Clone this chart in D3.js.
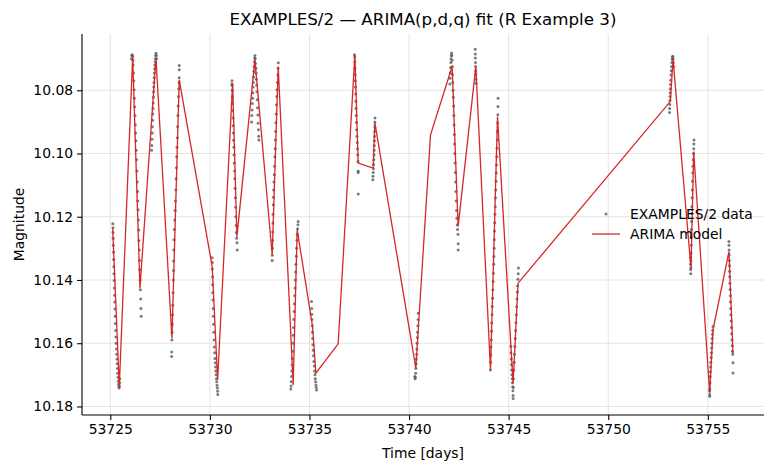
<!DOCTYPE html>
<html>
<head>
<meta charset="utf-8">
<script src="https://cdn.jsdelivr.net/npm/d3@7"></script>
<style>
  body { margin: 0; background: #fff; }
  svg { font-family: "DejaVu Sans", sans-serif; }
</style>
</head>
<body>
<div id="chart"></div>
<script>
// Observed light curve (time [MJD], magnitude), read night by night
const obsPoints = [
  // night 1
  [53725.128,10.1222],[53725.135,10.1235],[53725.140,10.1250],[53725.146,10.1268],[53725.152,10.1290],[53725.160,10.1312],[53725.168,10.1335],[53725.176,10.1358],[53725.186,10.1380],[53725.195,10.1402],[53725.205,10.1425],[53725.215,10.1448],[53725.226,10.1470],[53725.236,10.1492],[53725.246,10.1515],[53725.258,10.1538],[53725.270,10.1560],[53725.283,10.1580],[53725.296,10.1600],[53725.310,10.1618],[53725.322,10.1635],[53725.335,10.1650],[53725.348,10.1665],[53725.362,10.1680],[53725.376,10.1695],[53725.390,10.1708],[53725.404,10.1720],[53725.418,10.1730],[53725.432,10.1738],[53725.445,10.1742],[53725.458,10.1735],[53725.470,10.1725],[53725.478,10.1712],
  // night 2
  [53726.060,10.0700],[53726.080,10.0690],[53726.100,10.0688],[53726.120,10.0692],[53726.135,10.0705],[53726.150,10.0720],[53726.165,10.0745],[53726.180,10.0770],[53726.195,10.0798],[53726.210,10.0825],[53726.225,10.0852],[53726.240,10.0880],[53726.255,10.0909],[53726.270,10.0935],[53726.285,10.0960],[53726.300,10.0990],[53726.318,10.1020],[53726.335,10.1055],[53726.350,10.1090],[53726.365,10.1120],[53726.380,10.1150],[53726.395,10.1178],[53726.410,10.1210],[53726.425,10.1242],[53726.440,10.1275],[53726.455,10.1305],[53726.468,10.1338],[53726.480,10.1368],[53726.495,10.1400],[53726.510,10.1431],[53726.525,10.1460],[53726.540,10.1490],[53726.552,10.1515],
  // night 3
  [53727.075,10.0990],[53727.085,10.0975],[53727.095,10.0955],[53727.105,10.0935],[53727.115,10.0915],[53727.125,10.0895],[53727.135,10.0875],[53727.145,10.0858],[53727.155,10.0840],[53727.165,10.0822],[53727.175,10.0805],[53727.185,10.0790],[53727.195,10.0775],[53727.205,10.0760],[53727.215,10.0745],[53727.228,10.0732],[53727.240,10.0720],[53727.255,10.0710],[53727.268,10.0700],[53727.282,10.0690],[53727.295,10.0683],[53727.310,10.0690],[53727.325,10.0700],
  // night 4
  [53728.081,10.1642],[53728.083,10.1628],[53728.092,10.1590],[53728.100,10.1565],[53728.112,10.1540],[53728.125,10.1510],[53728.138,10.1480],[53728.150,10.1440],[53728.161,10.1400],[53728.170,10.1370],[53728.180,10.1340],[53728.190,10.1305],[53728.200,10.1273],[53728.215,10.1240],[53728.235,10.1210],[53728.255,10.1180],[53728.270,10.1150],[53728.290,10.1115],[53728.305,10.1080],[53728.320,10.1045],[53728.335,10.1010],[53728.350,10.0980],[53728.365,10.0950],[53728.380,10.0915],[53728.395,10.0880],[53728.410,10.0850],[53728.425,10.0820],[53728.440,10.0795],[53728.452,10.0775],[53728.460,10.0760],[53728.462,10.0735],[53728.462,10.0722],
  // night 5
  [53730.110,10.1330],[53730.118,10.1345],[53730.125,10.1365],[53730.132,10.1390],[53730.140,10.1415],[53730.148,10.1440],[53730.155,10.1463],[53730.165,10.1490],[53730.175,10.1515],[53730.188,10.1540],[53730.200,10.1565],[53730.212,10.1590],[53730.225,10.1612],[53730.240,10.1630],[53730.255,10.1648],[53730.270,10.1662],[53730.285,10.1675],[53730.300,10.1688],[53730.315,10.1700],[53730.330,10.1712],[53730.345,10.1722],[53730.360,10.1733],[53730.375,10.1742],[53730.390,10.1752],[53730.400,10.1762],
  // night 6
  [53731.100,10.0780],[53731.108,10.0770],[53731.115,10.0785],[53731.122,10.0800],[53731.130,10.0820],[53731.140,10.0842],[53731.150,10.0865],[53731.160,10.0888],[53731.170,10.0912],[53731.180,10.0935],[53731.190,10.0958],[53731.205,10.0980],[53731.215,10.1005],[53731.225,10.1030],[53731.240,10.1055],[53731.252,10.1080],[53731.265,10.1110],[53731.278,10.1140],[53731.290,10.1170],[53731.305,10.1200],[53731.318,10.1228],[53731.330,10.1250],[53731.345,10.1268],[53731.360,10.1282],[53731.372,10.1305],
  // night 7
  [53732.095,10.0900],[53732.105,10.0880],[53732.118,10.0862],[53732.130,10.0842],[53732.142,10.0825],[53732.155,10.0808],[53732.168,10.0790],[53732.180,10.0775],[53732.195,10.0758],[53732.210,10.0740],[53732.225,10.0725],[53732.240,10.0710],[53732.252,10.0698],[53732.262,10.0690],[53732.275,10.0700],[53732.290,10.0715],[53732.305,10.0730],[53732.320,10.0746],[53732.335,10.0765],[53732.350,10.0783],[53732.365,10.0805],[53732.380,10.0830],[53732.395,10.0855],[53732.410,10.0878],[53732.425,10.0904],[53732.440,10.0925],[53732.455,10.0945],[53732.462,10.0957],
  // night 8
  [53733.125,10.1338],[53733.130,10.1322],[53733.138,10.1300],[53733.146,10.1275],[53733.155,10.1248],[53733.164,10.1220],[53733.172,10.1192],[53733.182,10.1162],[53733.192,10.1138],[53733.200,10.1115],[53733.215,10.1090],[53733.232,10.1067],[53733.250,10.1040],[53733.265,10.1010],[53733.278,10.0985],[53733.290,10.0957],[53733.300,10.0930],[53733.312,10.0903],[53733.328,10.0875],[53733.345,10.0846],[53733.360,10.0820],[53733.375,10.0798],[53733.392,10.0775],[53733.410,10.0751],[53733.425,10.0730],[53733.435,10.0713],
  // night 9
  [53734.065,10.1745],[53734.075,10.1735],[53734.088,10.1722],[53734.100,10.1705],[53734.115,10.1688],[53734.130,10.1668],[53734.145,10.1648],[53734.158,10.1625],[53734.170,10.1600],[53734.185,10.1575],[53734.200,10.1550],[53734.215,10.1525],[53734.230,10.1500],[53734.245,10.1475],[53734.260,10.1450],[53734.275,10.1425],[53734.290,10.1400],[53734.305,10.1375],[53734.320,10.1350],[53734.338,10.1325],[53734.355,10.1300],[53734.372,10.1275],[53734.390,10.1255],[53734.405,10.1238],[53734.420,10.1225],[53734.432,10.1215],
  // night 10
  [53735.105,10.1468],[53735.110,10.1490],[53735.118,10.1508],[53735.128,10.1525],[53735.140,10.1545],[53735.150,10.1565],[53735.162,10.1585],[53735.175,10.1605],[53735.190,10.1622],[53735.205,10.1640],[53735.222,10.1658],[53735.240,10.1672],[53735.258,10.1688],[53735.275,10.1700],[53735.292,10.1712],[53735.310,10.1722],[53735.325,10.1732],[53735.340,10.1740],[53735.355,10.1748],
  // night 11
  [53737.260,10.0688],[53737.270,10.0695],[53737.278,10.0710],[53737.285,10.0730],[53737.292,10.0750],[53737.300,10.0770],[53737.310,10.0790],[53737.320,10.0812],[53737.328,10.0835],[53737.338,10.0858],[53737.348,10.0880],[53737.358,10.0902],[53737.370,10.0925],[53737.385,10.0945],[53737.400,10.0965],[53737.412,10.0985],[53737.425,10.1005],[53737.438,10.1025],[53737.445,10.1055],[53737.445,10.1060],[53737.448,10.1128],
  // night 12
  [53738.290,10.0888],[53738.285,10.0900],[53738.280,10.0915],[53738.275,10.0930],[53738.270,10.0945],[53738.262,10.0960],[53738.255,10.0975],[53738.248,10.0990],[53738.240,10.1005],[53738.232,10.1020],[53738.222,10.1035],[53738.212,10.1048],[53738.200,10.1060],[53738.190,10.1072],[53738.182,10.1083],
  // night 13
  [53740.290,10.1705],[53740.300,10.1712],[53740.315,10.1708],[53740.330,10.1695],[53740.342,10.1680],[53740.355,10.1665],[53740.368,10.1650],[53740.380,10.1635],[53740.392,10.1618],[53740.405,10.1600],[53740.418,10.1582],[53740.430,10.1565],[53740.442,10.1545],[53740.455,10.1525],[53740.465,10.1505],
  // night 14
  [53742.050,10.0780],[53742.060,10.0762],[53742.072,10.0745],[53742.085,10.0728],[53742.098,10.0712],[53742.110,10.0700],[53742.122,10.0690],[53742.135,10.0682],[53742.148,10.0690],[53742.160,10.0705],[53742.172,10.0725],[53742.185,10.0750],[53742.198,10.0775],[53742.210,10.0800],[53742.222,10.0822],[53742.235,10.0850],[53742.248,10.0880],[53742.260,10.0910],[53742.272,10.0940],[53742.285,10.0970],[53742.298,10.1000],[53742.310,10.1030],[53742.325,10.1060],[53742.340,10.1090],[53742.355,10.1120],[53742.370,10.1150],[53742.385,10.1180],[53742.400,10.1205],[53742.418,10.1225],[53742.435,10.1240],[53742.455,10.1255],[53742.465,10.1285],[53742.465,10.1305],
  // night 15
  [53743.320,10.0670],[53743.325,10.0685],[53743.330,10.0698],[53743.335,10.0712],[53743.340,10.0725],[53743.345,10.0738],[53743.350,10.0750],[53743.355,10.0765],[53743.360,10.0778],
  // night 16
  [53744.085,10.1685],[53744.095,10.1660],[53744.105,10.1637],[53744.115,10.1612],[53744.125,10.1590],[53744.138,10.1562],[53744.150,10.1536],[53744.165,10.1510],[53744.180,10.1484],[53744.195,10.1458],[53744.210,10.1431],[53744.222,10.1405],[53744.235,10.1379],[53744.250,10.1350],[53744.262,10.1326],[53744.272,10.1300],[53744.282,10.1273],[53744.292,10.1245],[53744.302,10.1219],[53744.315,10.1192],[53744.328,10.1168],[53744.340,10.1140],[53744.352,10.1115],[53744.365,10.1088],[53744.378,10.1062],[53744.392,10.1036],[53744.405,10.1010],[53744.418,10.0983],[53744.430,10.0957],[53744.440,10.0930],[53744.450,10.0903],[53744.458,10.0877],[53744.465,10.0851],[53744.470,10.0825],
  // night 17
  [53745.110,10.1610],[53745.118,10.1630],[53745.128,10.1650],[53745.140,10.1668],[53745.152,10.1685],[53745.165,10.1700],[53745.178,10.1712],[53745.192,10.1725],[53745.205,10.1738],[53745.215,10.1750],[53745.222,10.1765],[53745.225,10.1775],[53745.235,10.1740],[53745.248,10.1712],[53745.262,10.1685],[53745.278,10.1660],[53745.295,10.1635],[53745.312,10.1610],[53745.330,10.1585],[53745.348,10.1560],[53745.365,10.1535],[53745.382,10.1510],[53745.400,10.1485],[53745.418,10.1460],[53745.435,10.1438],[53745.452,10.1418],[53745.468,10.1398],[53745.480,10.1380],[53745.490,10.1362],
  // night 18
  [53753.080,10.0870],[53753.085,10.0858],[53753.090,10.0845],[53753.095,10.0832],[53753.100,10.0820],[53753.108,10.0808],[53753.115,10.0795],[53753.125,10.0782],[53753.135,10.0768],[53753.150,10.0752],[53753.165,10.0738],[53753.180,10.0725],[53753.195,10.0712],[53753.210,10.0702],[53753.225,10.0695],[53753.240,10.0692],[53753.255,10.0700],[53753.268,10.0712],[53753.280,10.0725],
  // night 19
  [53754.125,10.1330],[53754.130,10.1350],[53754.138,10.1368],[53754.145,10.1380],[53754.150,10.1362],[53754.155,10.1340],[53754.158,10.1315],[53754.162,10.1290],[53754.168,10.1265],[53754.175,10.1240],[53754.182,10.1215],[53754.190,10.1190],[53754.198,10.1168],[53754.208,10.1140],[53754.220,10.1115],[53754.232,10.1088],[53754.245,10.1062],[53754.258,10.1040],[53754.270,10.1020],[53754.282,10.1000],[53754.292,10.0985],[53754.300,10.0970],[53754.305,10.0957],
  // night 20
  [53755.085,10.1750],[53755.090,10.1762],[53755.095,10.1768],[53755.100,10.1745],[53755.108,10.1725],[53755.118,10.1705],[53755.128,10.1690],[53755.140,10.1675],[53755.152,10.1660],[53755.165,10.1645],[53755.178,10.1630],[53755.192,10.1615],[53755.205,10.1600],[53755.218,10.1585],[53755.232,10.1572],[53755.245,10.1560],[53755.258,10.1547],
  // night 21
  [53756.058,10.1278],[53756.062,10.1290],[53756.066,10.1305],[53756.072,10.1320],[53756.078,10.1338],[53756.085,10.1355],[53756.092,10.1372],[53756.100,10.1390],[53756.108,10.1410],[53756.118,10.1430],[53756.128,10.1450],[53756.138,10.1470],[53756.148,10.1490],[53756.160,10.1510],[53756.172,10.1530],[53756.185,10.1550],[53756.198,10.1570],[53756.210,10.1590],[53756.222,10.1608],[53756.235,10.1625],[53756.248,10.1635],[53756.262,10.1662],[53756.265,10.1694]
];

// ARIMA model curve (time, magnitude)
const modelPoints = [
  [53725.120,10.1236],[53725.452,10.1737],[53726.124,10.0693],[53726.490,10.1426],
  [53727.293,10.0698],[53728.096,10.1584],[53728.462,10.0767],[53730.118,10.1358],
  [53730.389,10.1716],[53731.142,10.0777],[53731.358,10.1263],[53732.261,10.0704],
  [53733.129,10.1321],[53733.430,10.0725],[53734.183,10.1732],[53734.384,10.1241],
  [53735.156,10.1548],[53735.322,10.1695],[53736.441,10.1602],[53737.279,10.0688],
  [53737.445,10.1030],[53738.198,10.1046],[53738.283,10.0902],[53740.340,10.1679],
  [53741.078,10.0941],[53742.162,10.0725],[53742.463,10.1231],[53743.351,10.0725],
  [53744.089,10.1685],[53744.440,10.0883],[53745.222,10.1727],[53745.473,10.1410],
  [53753.121,10.0835],[53753.251,10.0701],[53754.155,10.1363],[53754.290,10.0994],
  [53755.093,10.1758],[53755.259,10.1558],[53756.062,10.1310],[53756.263,10.1632]
];

const xTicks = [53725, 53730, 53735, 53740, 53745, 53750, 53755];
const yTicks = [10.08, 10.10, 10.12, 10.14, 10.16, 10.18];
const legendLabels = ["EXAMPLES/2 data", "ARIMA model"];

const W = 775, H = 472;
const margin = { top: 34, right: 11, bottom: 57, left: 82 };

const svg = d3.select("#chart").append("svg")
  .attr("width", W).attr("height", H);

const x = d3.scaleLinear()
  .domain([53723.58, 53757.82])
  .range([margin.left, W - margin.right]);

// magnitude axis is inverted: brighter (smaller) at the top
const y = d3.scaleLinear()
  .domain([10.0622, 10.1827])
  .range([margin.top, H - margin.bottom]);

// grid
const grid = svg.append("g").attr("stroke", "#dcdcdc").attr("stroke-width", 0.8);
grid.selectAll(".gx").data(xTicks).join("line")
  .attr("x1", d => x(d)).attr("x2", d => x(d))
  .attr("y1", margin.top).attr("y2", H - margin.bottom);
grid.selectAll(".gy").data(yTicks).join("line")
  .attr("x1", margin.left).attr("x2", W - margin.right)
  .attr("y1", d => y(d)).attr("y2", d => y(d));

// data points
svg.append("g").selectAll("circle").data(obsPoints).join("circle")
  .attr("cx", d => x(d[0])).attr("cy", d => y(d[1]))
  .attr("r", 1.5)
  .attr("fill", "#5a5a5a")
  .attr("opacity", 0.8);

// model line
svg.append("path").datum(modelPoints)
  .attr("fill", "none")
  .attr("stroke", "#d62728")
  .attr("stroke-width", 1.3)
  .attr("d", d3.line().x(d => x(d[0])).y(d => y(d[1])));

// axes
const xAxis = svg.append("g")
  .attr("transform", `translate(0,${H - margin.bottom})`)
  .call(d3.axisBottom(x).tickValues(xTicks).tickFormat(d3.format("d")).tickSize(4.9).tickPadding(4));
const yAxis = svg.append("g")
  .attr("transform", `translate(${margin.left},0)`)
  .call(d3.axisLeft(y).tickValues(yTicks).tickFormat(d3.format(".2f")).tickSize(4.9).tickPadding(4));

[xAxis, yAxis].forEach(a => {
  a.select(".domain").attr("stroke", "#000").attr("stroke-width", 1.1);
  a.selectAll(".tick line").attr("stroke", "#000").attr("stroke-width", 1.1);
  a.selectAll(".tick text").attr("fill", "#000").style("font-size", "13.9px")
    .style("font-family", "DejaVu Sans");
});
// keep only the left and bottom spines, spanning the full plot area
xAxis.select(".domain").attr("d", `M${margin.left},0H${W - margin.right}`);
yAxis.select(".domain").attr("d", `M0,${margin.top}V${H - margin.bottom}`);

// titles
svg.append("text")
  .attr("x", (margin.left + W - margin.right) / 2).attr("y", 25)
  .attr("text-anchor", "middle").style("font-size", "16.7px")
  .text("EXAMPLES/2 — ARIMA(p,d,q) fit (R Example 3)");
svg.append("text")
  .attr("x", (margin.left + W - margin.right) / 2).attr("y", 458)
  .attr("text-anchor", "middle").style("font-size", "13.9px")
  .text("Time [days]");
svg.append("text")
  .attr("transform", `translate(24,${(margin.top + H - margin.bottom) / 2}) rotate(-90)`)
  .attr("text-anchor", "middle").style("font-size", "13.9px")
  .text("Magnitude");

// legend
const legend = svg.append("g").attr("transform", "translate(592,214)");
legend.append("circle").attr("cx", 14).attr("cy", 0).attr("r", 1.5)
  .attr("fill", "#5a5a5a").attr("opacity", 0.8);
legend.append("line").attr("x1", 0).attr("x2", 28).attr("y1", 20).attr("y2", 20)
  .attr("stroke", "#d62728").attr("stroke-width", 1.3);
legend.selectAll("text").data(legendLabels).join("text")
  .attr("x", 38).attr("y", (d, i) => i * 20 + 5)
  .style("font-size", "13.9px")
  .text(d => d);
</script>
</body>
</html>
